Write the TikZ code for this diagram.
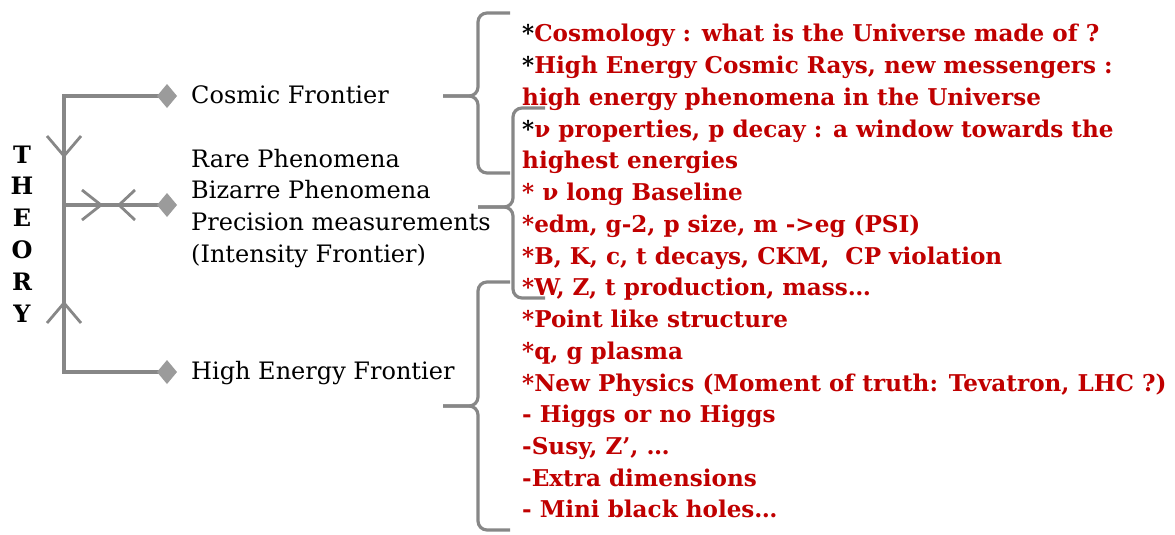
\documentclass[tikz,border=0pt]{standalone}
\usepackage{fontspec}
\setmainfont{DejaVu Serif}
\definecolor{linegray}{RGB}{135,135,135}
\definecolor{diagray}{RGB}{155,155,155}
\definecolor{darkred}{RGB}{192,0,0}
\tikzset{
  branch/.style={draw=linegray, line width=3.2pt},
  brace/.style={draw=linegray, line width=3.2pt, rounded corners=9pt},
  chev/.style={draw=linegray, line width=2.8pt},
  diafill/.style={fill=diagray, draw=none},
  pt/.style={inner sep=0pt, minimum size=0pt},
  lab/.style={anchor=base west, inner sep=0pt, font=\fontsize{24}{28}\selectfont, text=black},
  red/.style={anchor=base west, inner sep=0pt, font=\fontsize{23.1}{28}\bfseries\selectfont, text=darkred},
  theory/.style={anchor=base, inner sep=0pt, font=\fontsize{24}{28}\bfseries\selectfont, text=black}
}
\newcommand{\mydia}[1]{\fill[diafill] ($(#1)+(-10,0)$) -- ($(#1)+(0,-12)$) -- ($(#1)+(10,0)$) -- ($(#1)+(0,12)$) -- cycle;}
\usetikzlibrary{calc}
\begin{document}
\begin{tikzpicture}[x=1pt,y=-1pt]
\useasboundingbox (0,0) rectangle (1175,535);
% THEORY
\foreach \l [count=\i from 0] in {T,H,E,O,R,Y}
  \node[theory] (th\i) at (22,163+31.8*\i) {\l};
% tree
\coordinate (t1) at (64,96);
\coordinate (t2) at (64,205);
\coordinate (t3) at (64,372);
\node[pt] (d1) at (167,96) {};
\node[pt] (d2) at (167,205) {};
\node[pt] (d3) at (167,372) {};
\draw[branch] (d1) -- (t1) -- (t3) -- (d3);
\draw[branch] (t2) -- (d2);
\mydia{d1}
\mydia{d2}
\mydia{d3}
% chevrons
\draw[chev] (47,136) -- (64,156) -- (81,136);
\draw[chev] (47,323) -- (64,303) -- (81,323);
\draw[chev] (82,190) -- (101,205) -- (82,220);
\draw[chev] (135,190) -- (119,205) -- (135,220);
% labels
\node[lab] (cf) at (191,103) {Cosmic Frontier};
\node[lab] (rp) at (191,167) {Rare Phenomena};
\node[lab] (bp) at (191,198) {Bizarre Phenomena};
\node[lab] (pm) at (191,230) {Precision measurements};
\node[lab] (inf) at (191,262) {(Intensity Frontier)};
\node[lab] (hef) at (191,379) {High Energy Frontier};
% braces
\draw[brace] (510,13) -- (478,13) -- (478,96) -- (443,96);
\draw[brace] (443,96) -- (478,96) -- (478,173) -- (510,173);
\draw[brace] (545,108) -- (513,108) -- (513,207) -- (478,207);
\draw[brace] (478,207) -- (513,207) -- (513,298) -- (545,298);
\draw[brace] (510,282) -- (478,282) -- (478,406) -- (443,406);
\draw[brace] (443,406) -- (478,406) -- (478,530) -- (510,530);
% red text
\def\bl#1{(522,42+31.73*#1)}
\node[red] (r0) at \bl{0} {\textcolor{black}{*}Cosmology : what is the Universe made of ?};
\node[red] (r1) at \bl{1} {\textcolor{black}{*}High Energy Cosmic Rays, new messengers :};
\node[red] (r2) at \bl{2} {high energy phenomena in the Universe};
\node[red] (r3) at \bl{3} {\textcolor{black}{*}ν properties, p decay : a window towards the};
\node[red] (r4) at \bl{4} {highest energies};
\node[red] (r5) at \bl{5} {* ν long Baseline};
\node[red] (r6) at \bl{6} {*edm, g-2, p size, m ->eg (PSI)};
\node[red] (r7) at \bl{7} {*B, K, c, t decays, CKM,\ \ CP violation};
\node[red] (r8) at \bl{8} {*W, Z, t production, mass…};
\node[red] (r9) at \bl{9} {*Point like structure};
\node[red] (r10) at \bl{10} {*q, g plasma};
\node[red] (r11) at \bl{11} {*New Physics (Moment of truth: Tevatron, LHC ?)};
\node[red] (r12) at \bl{12} {- Higgs or no Higgs};
\node[red] (r13) at \bl{13} {-Susy, Z’, …};
\node[red] (r14) at \bl{14} {-Extra dimensions};
\node[red] (r15) at \bl{15} {- Mini black holes…};
\end{tikzpicture}
\end{document}
